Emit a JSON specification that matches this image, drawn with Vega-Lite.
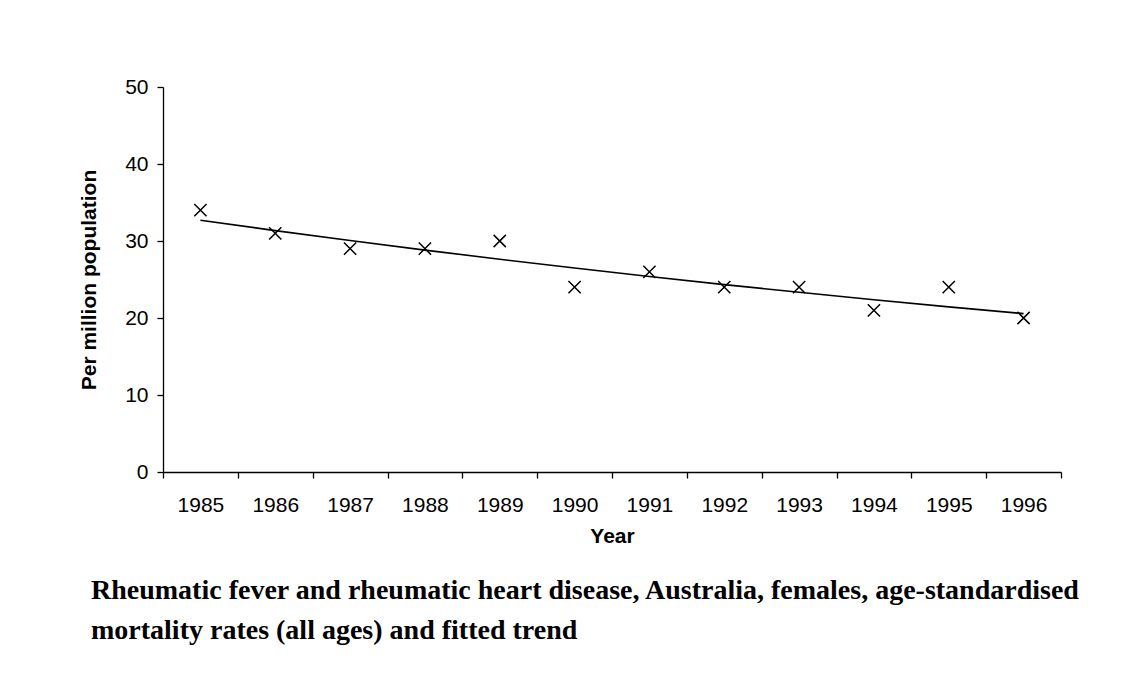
{
  "$schema": "https://vega.github.io/schema/vega-lite/v6.json",
  "width": 898,
  "height": 385,
  "autosize": {"type": "none"},
  "padding": {"left": 163, "top": 87, "right": 82, "bottom": 223},
  "background": "white",
  "config": {
    "view": {"stroke": null},
    "font": "Liberation Sans",
    "axis": {"domainColor": "black", "domainWidth": 1.3, "tickColor": "black", "tickWidth": 1.3, "labelColor": "black", "titleColor": "black", "grid": false}
  },
  "title": {
    "text": ["Rheumatic fever and rheumatic heart disease, Australia, females, age-standardised", "mortality rates (all ages) and fitted trend"],
    "orient": "bottom",
    "anchor": "start",
    "frame": "group",
    "dx": -72,
    "offset": 31,
    "font": "Liberation Serif",
    "fontSize": 28,
    "fontWeight": "bold",
    "lineHeight": 40,
    "color": "black"
  },
  "data": {
    "values": [
      {"year": "1985", "rate": 34, "trend": 32.7},
      {"year": "1986", "rate": 31, "trend": 31.35},
      {"year": "1987", "rate": 29, "trend": 30.06},
      {"year": "1988", "rate": 29, "trend": 28.82},
      {"year": "1989", "rate": 30, "trend": 27.63},
      {"year": "1990", "rate": 24, "trend": 26.49},
      {"year": "1991", "rate": 26, "trend": 25.39},
      {"year": "1992", "rate": 24, "trend": 24.34},
      {"year": "1993", "rate": 24, "trend": 23.34},
      {"year": "1994", "rate": 21, "trend": 22.38},
      {"year": "1995", "rate": 24, "trend": 21.45},
      {"year": "1996", "rate": 20, "trend": 20.57}
    ]
  },
  "encoding": {
    "x": {
      "field": "year",
      "type": "ordinal",
      "scale": {"type": "band", "paddingInner": 0, "paddingOuter": 0},
      "axis": {"title": "Year", "labelAngle": 0, "tickBand": "extent", "tickSize": 6, "labelPadding": 16, "labelFontSize": 21, "titleFontSize": 21, "titleFontWeight": "bold", "titlePadding": 10}
    }
  },
  "layer": [
    {
      "mark": {"type": "line", "color": "black", "strokeWidth": 1.6},
      "encoding": {
        "y": {
          "field": "trend",
          "type": "quantitative",
          "scale": {"domain": [0, 50], "nice": false},
          "axis": {"title": "Per million population", "values": [0, 10, 20, 30, 40, 50], "tickSize": 6, "labelPadding": 9, "labelFontSize": 21, "titleFontSize": 21, "titleFontWeight": "bold", "titlePadding": 25}
        }
      }
    },
    {
      "mark": {"type": "point", "shape": "M-1,-1L1,1M-1,1L1,-1", "size": 150, "filled": false, "stroke": "black", "strokeWidth": 1.5, "opacity": 1},
      "encoding": {
        "y": {"field": "rate", "type": "quantitative"}
      }
    }
  ]
}
